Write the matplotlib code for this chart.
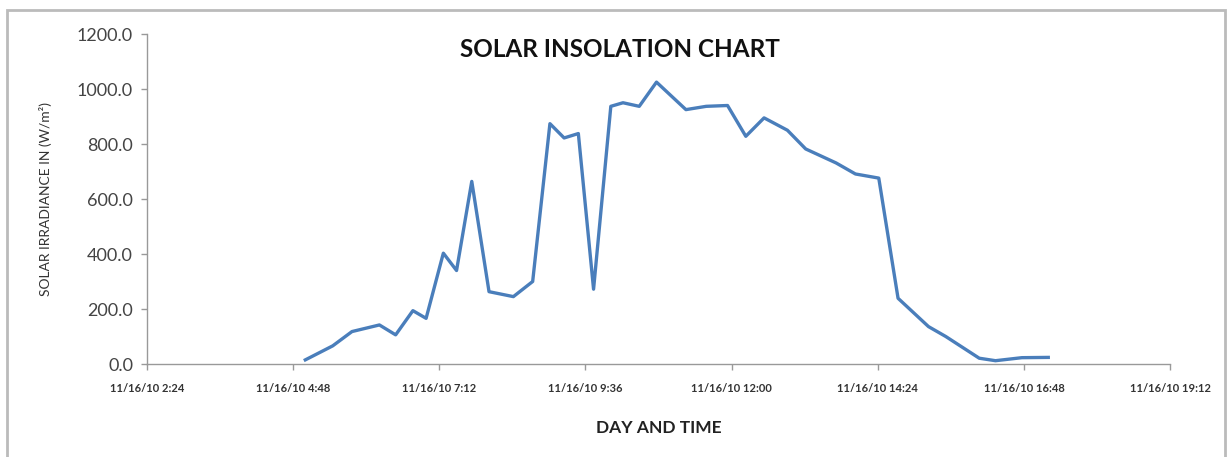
import numpy as np
import matplotlib
matplotlib.use('Agg')
import matplotlib.pyplot as plt
from matplotlib.patches import Rectangle
from matplotlib.ticker import FixedLocator

# readings on 11/16/10, time of day and irradiance (W/m2)
times = ['05:00', '05:27', '05:46', '06:13', '06:29', '06:46', '06:59',
         '07:16', '07:29', '07:44', '08:01', '08:25', '08:44', '09:01',
         '09:15', '09:29', '09:44', '10:01', '10:13', '10:29', '10:46',
         '11:15', '11:35', '11:56', '12:14', '12:32', '12:55', '13:13',
         '13:43', '14:02', '14:25', '14:44', '15:14', '15:31', '16:04',
         '16:20', '16:46', '17:12']
irradiance = [15, 66, 118, 142, 106, 194, 166,
              403, 340, 664, 263, 245, 300, 874,
              822, 838, 272, 937, 950, 937, 1025,
              925, 937, 940, 828, 895, 850, 782,
              731, 691, 676, 239, 136, 100, 21,
              12, 23, 24]

tick_hours = [2.4, 4.8, 7.2, 9.6, 12.0, 14.4, 16.8, 19.2]
tick_labels = ['11/16/10 2:24', '11/16/10 4:48', '11/16/10 7:12', '11/16/10 9:36',
               '11/16/10 12:00', '11/16/10 14:24', '11/16/10 16:48', '11/16/10 19:12']
y_ticks = [0, 200, 400, 600, 800, 1000, 1200]

hours = np.array([int(t[:2]) + int(t[3:]) / 60 for t in times])

plt.rcParams['font.family'] = ['Lato', 'DejaVu Sans']

fig = plt.figure(figsize=(12.31, 4.57), dpi=100)
ax = fig.add_axes([0.1194, 0.2035, 0.8311, 0.7221])

ax.plot(hours, irradiance, color='#4A7EBB', lw=2.4, solid_joinstyle='round')

ax.set_xlim(2.4, 19.2)
ax.set_ylim(0, 1200)
ax.xaxis.set_major_locator(FixedLocator(tick_hours))
ax.set_xticklabels(tick_labels, fontsize=8, fontweight='bold', color='#333333')
ax.set_yticks(y_ticks)
ax.set_yticklabels(['%.1f' % v for v in y_ticks], fontsize=13, color='#444444')

for s in ['top', 'right']:
    ax.spines[s].set_visible(False)
for s in ['left', 'bottom']:
    ax.spines[s].set_color('#999999')
    ax.spines[s].set_linewidth(1)
ax.tick_params(axis='both', colors='#999999', length=4, width=1)
ax.tick_params(axis='x', pad=10, labelcolor='#333333')
ax.tick_params(axis='y', pad=6, labelcolor='#444444')

ax.set_title('SOLAR INSOLATION CHART', fontsize=17.5, fontweight='bold',
             color='#111111', y=0.905, x=0.462)
ax.set_xlabel('DAY AND TIME', fontsize=12.5, fontweight='bold', color='#222222')
ax.xaxis.set_label_coords(0.50, -0.17)
ax.set_ylabel('SOLAR IRRADIANCE IN (W/m²)', fontsize=10, color='#333333')
ax.yaxis.set_label_coords(-0.093, 0.5)

fig.patches.append(Rectangle((7 / 1231, -0.02), 1218 / 1231, 1 - 10 / 457 + 0.02,
                             transform=fig.transFigure, fill=False,
                             edgecolor='#BBBBBB', lw=2))

fig.savefig('out.png', dpi=100)
